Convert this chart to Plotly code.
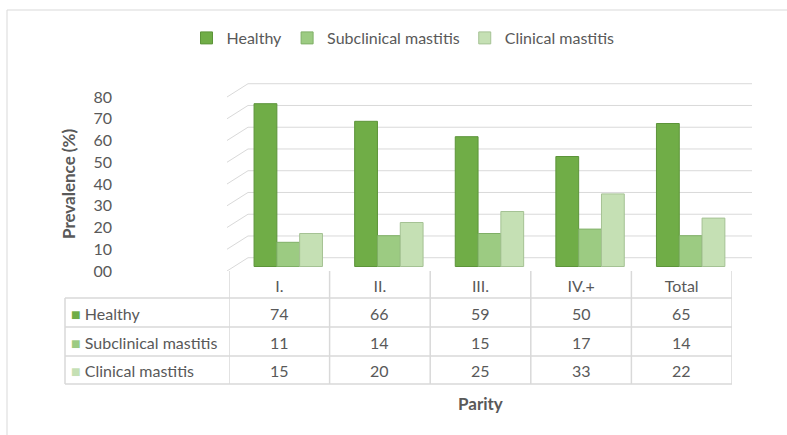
import plotly.graph_objects as go

# ---- data ----
categories = ["I.", "II.", "III.", "IV.+", "Total"]
series_names = ["Healthy", "Subclinical mastitis", "Clinical mastitis"]
healthy = [74, 66, 59, 50, 65]
subclinical = [11, 14, 15, 17, 14]
clinical = [15, 20, 25, 33, 22]
y_ticks = [0, 10, 20, 30, 40, 50, 60, 70, 80]
y_ticktext = [f"{v:02d}" for v in y_ticks]

series_values = [healthy, subclinical, clinical]
colors = ["#70AD47", "#9CCB82", "#C5E0B4"]
edge_colors = ["#5C9439", "#7FAF66", "#A5C294"]

W, H = 787, 435
FONT = "Lato, 'Open Sans', sans-serif"
GRAY = "#595959"
LINE = "#D9D9D9"
FS = 16


def fx(x):
    return x / W


def fy(y):
    return 1 - y / H


fig = go.Figure()

# invisible trace registering categories on the visible x axis
fig.add_trace(go.Scatter(x=categories, y=[0] * len(categories), mode="markers",
                         marker=dict(opacity=0), hoverinfo="skip", showlegend=False,
                         xaxis="x", yaxis="y"))

for name, vals, c, ec in zip(series_names, series_values, colors, edge_colors):
    fig.add_trace(go.Bar(name=name, x=categories, y=vals, xaxis="x2", yaxis="y2",
                         marker=dict(color=c, line=dict(color=ec, width=1))))

shapes = []
DEPTH = 6.1  # perspective depth of back wall in front-axis units
for v in y_ticks:
    shapes.append(dict(type="line", xref="paper", yref="y", x0=fx(227), x1=fx(248),
                       y0=v, y1=v + DEPTH, line=dict(color=LINE, width=1), layer="below"))
    shapes.append(dict(type="line", xref="paper", yref="y", x0=fx(248), x1=fx(752),
                       y0=v + DEPTH, y1=v + DEPTH, line=dict(color=LINE, width=1), layer="below"))

# table lines
row_tops = [298, 327, 356, 384]
for yy in row_tops:
    shapes.append(dict(type="line", xref="paper", yref="paper", x0=fx(65), x1=fx(732),
                       y0=fy(yy), y1=fy(yy), line=dict(color=LINE, width=1.5)))
shapes.append(dict(type="line", xref="paper", yref="paper", x0=fx(65), x1=fx(65),
                   y0=fy(298), y1=fy(384), line=dict(color=LINE, width=1.5)))
for i in range(len(categories) + 1):
    shapes.append(dict(type="line", xref="x", yref="paper", x0=i - 0.5, x1=i - 0.5,
                       y0=fy(271), y1=fy(384), line=dict(color=LINE, width=1.5)))

# outer frame
shapes.append(dict(type="rect", xref="paper", yref="paper", x0=fx(7), x1=fx(W + 10),
                   y0=fy(10), y1=fy(H + 10), line=dict(color=LINE, width=1)))

annotations = []
row_centers = [313, 342, 370]
for name, vals, c, yc in zip(series_names, series_values, colors, row_centers):
    annotations.append(dict(xref="paper", yref="paper", x=fx(69), y=fy(yc), xanchor="left",
                            yanchor="middle", showarrow=False,
                            text=f"<span style='color:{c}'>■</span> {name}",
                            font=dict(family=FONT, size=FS, color=GRAY)))
    for cat, v in zip(categories, vals):
        annotations.append(dict(xref="x", yref="paper", x=cat, y=fy(yc), xanchor="center",
                                yanchor="middle", showarrow=False, text=str(v),
                                font=dict(family=FONT, size=FS, color=GRAY)))

annotations.append(dict(xref="paper", yref="paper", x=fx(68), y=fy(184), textangle=-90,
                        xanchor="center", yanchor="middle",
                        showarrow=False, text="<b>Prevalence (%)</b>",
                        font=dict(family=FONT, size=17, color=GRAY)))
annotations.append(dict(xref="paper", yref="paper", x=fx(480), y=fy(403), showarrow=False,
                        xanchor="center", yanchor="middle",
                        text="<b>Parity</b>", font=dict(family=FONT, size=17, color=GRAY)))

SHIFT = 9 / 101  # perspective shift of the bar groups, in category units
fig.update_layout(
    width=W, height=H, autosize=False,
    margin=dict(l=0, r=0, t=0, b=0, pad=0, autoexpand=False),
    paper_bgcolor="white", plot_bgcolor="rgba(0,0,0,0)",
    font=dict(family=FONT, size=FS, color=GRAY),
    barmode="group", bargap=0.32, bargroupgap=0,
    showlegend=True,
    legend=dict(orientation="h", x=fx(403), xanchor="center", y=fy(38), yanchor="middle",
                font=dict(family=FONT, size=FS, color=GRAY), itemwidth=30,
                bgcolor="rgba(0,0,0,0)"),
    xaxis=dict(domain=[fx(229), fx(732)], type="category", categoryarray=categories,
               range=[-0.5, len(categories) - 0.5], showgrid=False, showline=False,
               zeroline=False, ticks="", ticklabelstandoff=4, automargin=False,
               tickfont=dict(family=FONT, size=FS, color=GRAY), anchor="y"),
    yaxis=dict(domain=[fy(271), fy(83)], range=[0, (271 - 83) / 2.175], tickvals=y_ticks,
               ticktext=y_ticktext, showgrid=False, zeroline=False, showline=False,
               ticks="", ticklabelstandoff=116, automargin=False,
               tickfont=dict(family=FONT, size=FS, color=GRAY), anchor="x"),
    xaxis2=dict(overlaying="x", type="category", categoryarray=categories,
                range=[-0.5 - SHIFT, len(categories) - 0.5 - SHIFT], visible=False,
                anchor="y2"),
    yaxis2=dict(overlaying="y", range=[-(271 - 266.5) / 2.2, (266.5 - 83) / 2.2],
                visible=False, anchor="x2"),
    shapes=shapes,
    annotations=annotations,
)

fig.write_html("out.html", config={"displayModeBar": False},
               post_script="document.body.style.margin='0px';")
